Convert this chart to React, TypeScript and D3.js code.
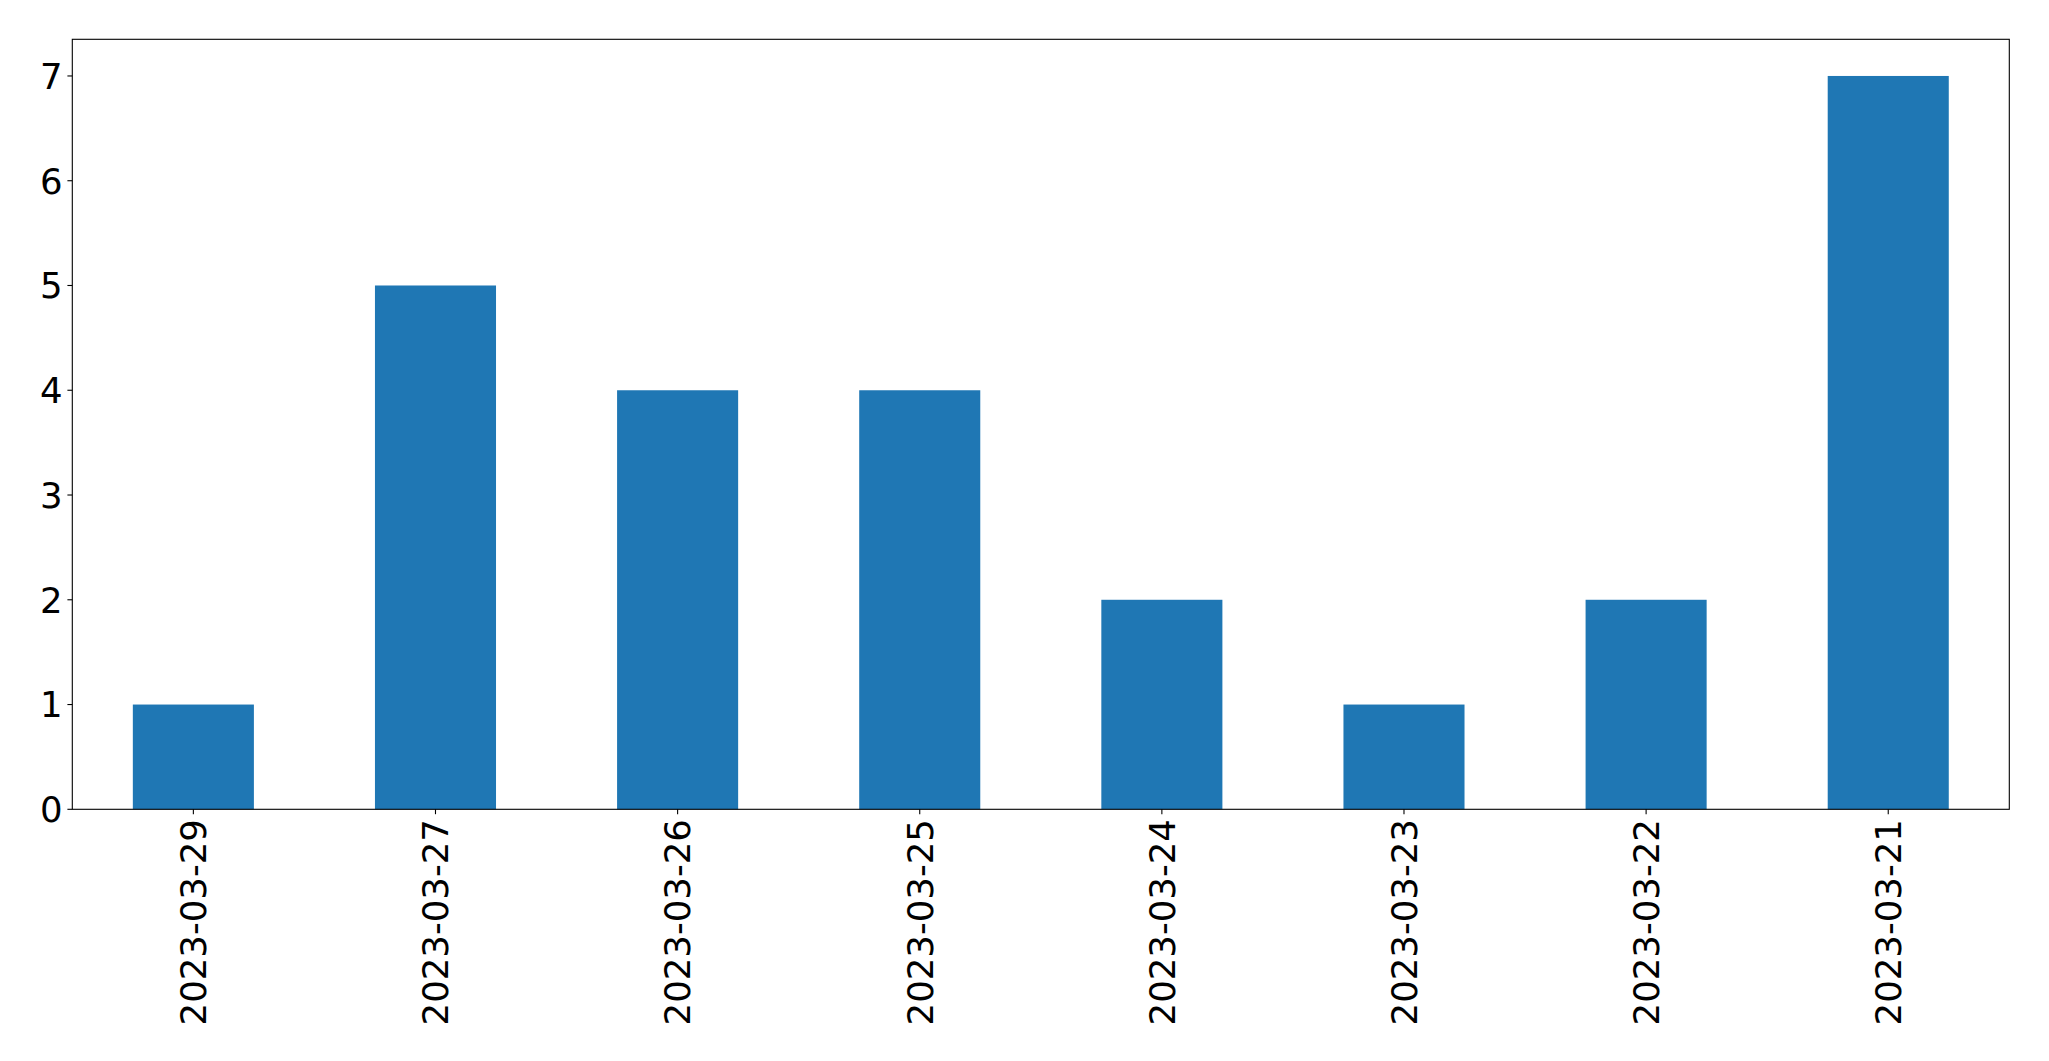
import React from "react";
import * as d3 from "d3";

const categories = ["2023-03-29", "2023-03-27", "2023-03-26", "2023-03-25", "2023-03-24", "2023-03-23", "2023-03-22", "2023-03-21"];
const values = [1, 5, 4, 4, 2, 1, 2, 7];
const yTicks = [0, 1, 2, 3, 4, 5, 6, 7];

const W = 2049;
const H = 1061;
const left = 72.3;
const right = 2009.3;
const top = 39.3;
const bottom = 809.3;
const fs = 35.5;

export default function App() {
  const x = d3.scaleBand<string>().domain(categories).range([left, right]).paddingInner(0.5).paddingOuter(0.25);
  const y = d3.scaleLinear().domain([0, 7.35]).range([bottom, top]);
  return (
    <svg width={W} height={H} style={{ position: "absolute", left: 0, top: 0 }} fontFamily="DejaVu Sans">
      <rect x={0} y={0} width={W} height={H} fill="#fff" />
      {categories.map((c, i) => (
        <rect key={c} x={x(c)} y={y(values[i])} width={x.bandwidth()} height={y(0) - y(values[i])} fill="#1f77b4" />
      ))}
      <rect x={left} y={top} width={right - left} height={bottom - top} fill="none" stroke="#000" strokeWidth={1.1} />
      {yTicks.map((t) => (
        <g key={t}>
          <line x1={left - 4.9} x2={left} y1={y(t)} y2={y(t)} stroke="#000" strokeWidth={1.1} />
          <text x={left - 9.8} y={y(t)} dy="0.36em" textAnchor="end" fontSize={fs} fill="#000">{t}</text>
        </g>
      ))}
      {categories.map((c) => {
        const cx = (x(c) as number) + x.bandwidth() / 2;
        return (
          <g key={c}>
            <line x1={cx} x2={cx} y1={bottom} y2={bottom + 4.9} stroke="#000" strokeWidth={1.1} />
            <text transform={`translate(${cx},${bottom + 9.8}) rotate(-90)`} dy="0.36em" textAnchor="end" fontSize={fs} fill="#000">{c}</text>
          </g>
        );
      })}
    </svg>
  );
}
